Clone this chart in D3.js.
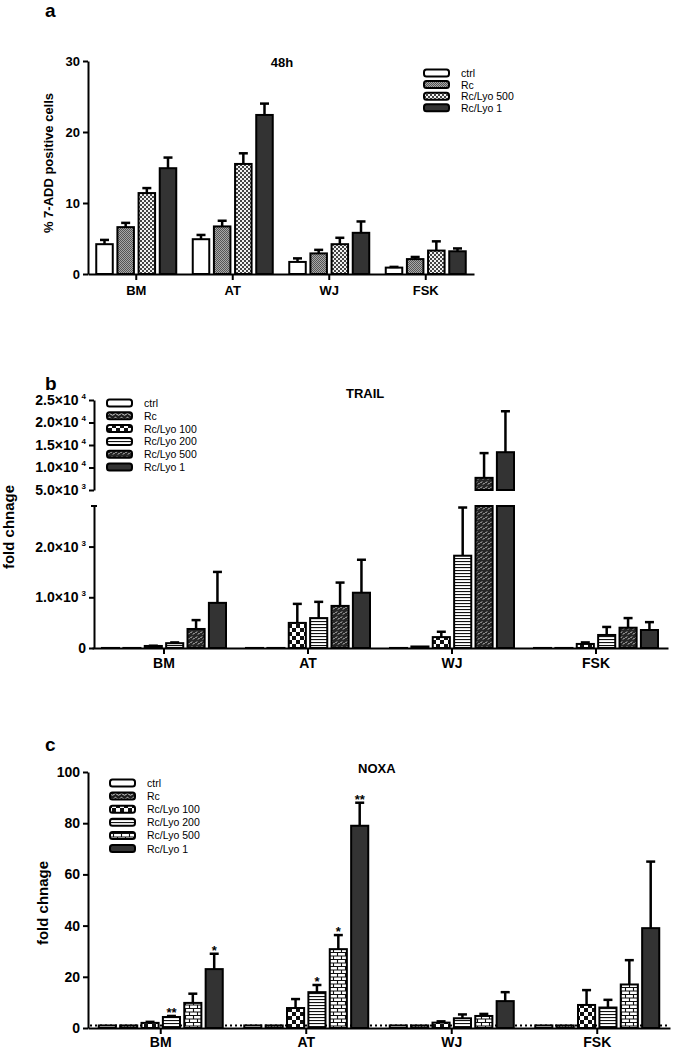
<!DOCTYPE html>
<html><head><meta charset="utf-8">
<script src="https://cdn.jsdelivr.net/npm/d3@7"></script>
<style>body{margin:0;background:#fff} svg{display:block;font-family:"Liberation Sans",Arial,sans-serif}</style>
</head><body><svg id="chart" width="675" height="1050"></svg>
<script>
// ---------------- DATA ----------------
const categories = ["BM","AT","WJ","FSK"];

// Panel a: % 7-ADD positive cells, 48h
const seriesA = ["ctrl","Rc","Rc/Lyo 500","Rc/Lyo 1"];
const a_ctrl = [4.2, 4.9, 1.7, 0.9];
const a_ctrl_err = [0.6, 0.6, 0.5, 0.1];
const a_rc = [6.6, 6.7, 2.9, 2.1];
const a_rc_err = [0.6, 0.8, 0.5, 0.3];
const a_lyo500 = [11.4, 15.5, 4.2, 3.3];
const a_lyo500_err = [0.7, 1.5, 0.9, 1.3];
const a_lyo1 = [14.9, 22.4, 5.8, 3.2];
const a_lyo1_err = [1.5, 1.6, 1.6, 0.4];
const ticksA = [0, 10, 20, 30];

// Panel b: TRAIL fold change
const seriesB = ["ctrl","Rc","Rc/Lyo 100","Rc/Lyo 200","Rc/Lyo 500","Rc/Lyo 1"];
const b_ctrl = [1, 1, 1, 1];
const b_ctrl_err = [0, 0, 0, 0];
const b_rc = [1, 1, 30, 1];
const b_rc_err = [0, 0, 0, 0];
const b_lyo100 = [40, 495, 215, 80];
const b_lyo100_err = [5, 375, 105, 30];
const b_lyo200 = [95, 590, 1820, 257];
const b_lyo200_err = [15, 320, 950, 158];
const b_lyo500 = [375, 830, 7700, 400];
const b_lyo500_err = [175, 460, 5500, 190];
const b_lyo1 = [890, 1090, 13400, 355];
const b_lyo1_err = [610, 650, 9100, 155];
const ticksBLow = [0, 1000, 2000];
const ticksBLowLabels = ["0", "1.0×10", "2.0×10"];
const ticksBLowExp = ["", "3", "3"];
const ticksBHigh = [5000, 10000, 15000, 20000, 25000];
const ticksBHighLabels = ["5.0×10", "1.0×10", "1.5×10", "2.0×10", "2.5×10"];
const ticksBHighExp = ["3", "4", "4", "4", "4"];

// Panel c: NOXA fold change
const seriesC = ["ctrl","Rc","Rc/Lyo 100","Rc/Lyo 200","Rc/Lyo 500","Rc/Lyo 1"];
const c_ctrl = [1, 1, 1, 1];
const c_ctrl_err = [0, 0, 0, 0];
const c_rc = [1, 1, 1, 1];
const c_rc_err = [0, 0, 0, 0];
const c_lyo100 = [2.0, 7.8, 2.1, 9.0];
const c_lyo100_err = [0.4, 3.5, 0.5, 5.8];
const c_lyo200 = [4.3, 14.0, 3.8, 8.0];
const c_lyo200_err = [0.4, 2.8, 1.5, 3.0];
const c_lyo500 = [9.8, 30.8, 4.7, 17.0];
const c_lyo500_err = [3.6, 5.5, 0.8, 9.5];
const c_lyo1 = [23.0, 79.0, 10.5, 39.0];
const c_lyo1_err = [6.0, 9.0, 3.5, 26.0];
const c_stars200 = ["**", "*", "", ""];
const c_stars500 = ["", "*", "", ""];
const c_stars1 = ["*", "**", "", ""];
const ticksC = [0, 20, 40, 60, 80, 100];

// ---------------- SETUP ----------------
const svg = d3.select("#chart");
const defs = svg.append("defs");
function pat(id, w, h, bg, draw) {
  const p = defs.append("pattern").attr("id", id).attr("patternUnits", "userSpaceOnUse")
    .attr("width", w).attr("height", h);
  p.append("rect").attr("width", w).attr("height", h).attr("fill", bg);
  draw(p);
}
pat("aRc", 2, 2, "#a8a8a8", p => {
  p.append("rect").attr("width", 1).attr("height", 1).attr("fill", "#555");
  p.append("rect").attr("x", 1).attr("y", 1).attr("width", 1).attr("height", 1).attr("fill", "#555");
});
pat("a500", 4, 4, "#f2f2f2", p => {
  p.append("rect").attr("width", 2).attr("height", 2).attr("fill", "#444");
  p.append("rect").attr("x", 2).attr("y", 2).attr("width", 2).attr("height", 2).attr("fill", "#444");
});
pat("wave", 6, 4, "#1e1e1e", p => p.append("path").attr("d", "M0,2.5 L1.5,1.3 L3,2.5 L4.5,3.2 L6,2.5")
  .attr("stroke", "#fff").attr("fill", "none").attr("stroke-width", 0.8));
pat("check", 8, 8, "#fff", p => {
  p.append("rect").attr("width", 4).attr("height", 4).attr("fill", "#111");
  p.append("rect").attr("x", 4).attr("y", 4).attr("width", 4).attr("height", 4).attr("fill", "#111");
});
pat("hstripe", 3, 3, "#fff", p => p.append("rect").attr("width", 3).attr("height", 1.1).attr("fill", "#111"));
pat("b500", 5, 5, "#262626", p => p.append("path").attr("d", "M0.5,3 L2,1.5 M3,4.5 L4.5,3")
  .attr("stroke", "#fff").attr("stroke-width", 0.9));
pat("brick", 8, 7, "#fff", p => p.append("path").attr("d", "M0,0.5H8M0,4H8M1.5,0.5V4M5.5,4V7")
  .attr("stroke", "#111").attr("stroke-width", 1.1));

const fillsA = ["#fff", "url(#aRc)", "url(#a500)", "#333"];
const fillsB = ["#fff", "url(#wave)", "url(#check)", "url(#hstripe)", "url(#b500)", "#333"];
const fillsC = ["#fff", "url(#wave)", "url(#check)", "url(#hstripe)", "url(#brick)", "#333"];

function styleAxis(g) {
  g.select(".domain").attr("stroke", "#000").attr("stroke-width", 2);
  g.selectAll(".tick line").attr("stroke", "#000").attr("stroke-width", 2);
  g.selectAll(".tick text").attr("fill", "#000").attr("font-weight", "bold")
    .attr("font-family", "Liberation Sans, Arial, sans-serif");
}

function legend(x0, y0, step, series, fills, textX) {
  const g = svg.append("g");
  series.forEach((s, i) => {
    const y = y0 + i * step;
    g.append("rect").attr("x", x0).attr("y", y - 3.5).attr("width", 25).attr("height", 7).attr("rx", 2.5)
      .attr("fill", fills[i]).attr("stroke", "#000").attr("stroke-width", 2);
    g.append("text").attr("x", textX).attr("y", y + 4).attr("font-size", 10.5).text(s);
  });
}

function errBar(g, cx, yTop, yErr) {
  g.append("line").attr("x1", cx).attr("x2", cx).attr("y1", yTop).attr("y2", yErr)
    .attr("stroke", "#000").attr("stroke-width", 2.5);
  g.append("line").attr("x1", cx - 4.5).attr("x2", cx + 4.5).attr("y1", yErr).attr("y2", yErr)
    .attr("stroke", "#000").attr("stroke-width", 2.5);
}

// ---------------- PANEL A ----------------
{
  const means = [a_ctrl, a_rc, a_lyo500, a_lyo1];
  const errs = [a_ctrl_err, a_rc_err, a_lyo500_err, a_lyo1_err];
  const x = d3.scaleBand().domain(categories).range([88, 474]);
  const xi = d3.scaleBand().domain(seriesA).range([-40, 40]).paddingInner(0.22);
  const y = d3.scaleLinear().domain([0, 30]).range([274, 61]);
  const g = svg.append("g");
  seriesA.forEach((s, j) => {
    categories.forEach((c, i) => {
      const v = means[j][i];
      const bx = x(c) + x.bandwidth() / 2 + xi(s);
      g.append("rect").attr("x", bx).attr("y", y(v)).attr("width", xi.bandwidth()).attr("height", y(0) - y(v))
        .attr("fill", fillsA[j]).attr("stroke", "#000").attr("stroke-width", 2);
      if (errs[j][i] > 0) errBar(g, bx + xi.bandwidth() / 2, y(v), y(v + errs[j][i]));
    });
  });
  const ya = svg.append("g").attr("transform", "translate(88,0)")
    .call(d3.axisLeft(y).tickValues(ticksA).tickSize(5).tickSizeOuter(0).tickFormat(d3.format("d")));
  styleAxis(ya); ya.selectAll(".tick text").attr("font-size", 13);
  const xa = svg.append("g").attr("transform", "translate(0,274)")
    .call(d3.axisBottom(x).tickSize(6).tickSizeOuter(0));
  styleAxis(xa); xa.selectAll(".tick text").attr("font-size", 13).attr("dy", "0.95em");
  svg.append("text").attr("transform", "translate(53,163) rotate(-90)").attr("text-anchor", "middle")
    .attr("font-size", 13).attr("font-weight", "bold").text("% 7-ADD positive cells");
  svg.append("text").attr("x", 282).attr("y", 67).attr("text-anchor", "middle").attr("font-size", 13)
    .attr("font-weight", "bold").text("48h");
  svg.append("text").attr("x", 45).attr("y", 17).attr("font-size", 19).attr("font-weight", "bold").text("a");
  legend(424, 73, 11.6, seriesA, fillsA, 461);
}

// ---------------- PANEL B ----------------
{
  const means = [b_ctrl, b_rc, b_lyo100, b_lyo200, b_lyo500, b_lyo1];
  const errs = [b_ctrl_err, b_rc_err, b_lyo100_err, b_lyo200_err, b_lyo500_err, b_lyo1_err];
  const x = d3.scaleBand().domain(categories).range([92, 668]);
  const xi = d3.scaleBand().domain(seriesB).range([-62, 62]).paddingInner(0.2);
  const yLow = d3.scaleLinear().domain([0, 2800]).range([648, 506]);
  const yUp = d3.scaleLinear().domain([5000, 25000]).range([490, 400]);
  const yPos = v => v <= 2800 ? yLow(v) : yUp(v);
  const g = svg.append("g");
  seriesB.forEach((s, j) => {
    categories.forEach((c, i) => {
      const v = means[j][i];
      const bx = x(c) + x.bandwidth() / 2 + xi(s);
      const w = xi.bandwidth();
      if (v <= 2800) {
        g.append("rect").attr("x", bx).attr("y", yLow(v)).attr("width", w).attr("height", yLow(0) - yLow(v))
          .attr("fill", fillsB[j]).attr("stroke", "#000").attr("stroke-width", 2);
      } else {
        g.append("rect").attr("x", bx).attr("y", yLow(2800)).attr("width", w).attr("height", yLow(0) - yLow(2800))
          .attr("fill", fillsB[j]).attr("stroke", "#000").attr("stroke-width", 2);
        g.append("rect").attr("x", bx).attr("y", yUp(v)).attr("width", w).attr("height", yUp(5000) - yUp(v))
          .attr("fill", fillsB[j]).attr("stroke", "#000").attr("stroke-width", 2);
      }
      if (errs[j][i] > 0) errBar(g, bx + w / 2, yPos(v), yPos(v + errs[j][i]));
    });
  });
  function supLabels(axisG, labels, exps) {
    axisG.selectAll(".tick text").each(function (d, i) {
      const t = d3.select(this).text(null).attr("font-size", 14);
      t.append("tspan").text(labels[i]);
      if (exps[i]) {
        t.append("tspan").attr("font-size", 8).attr("dx", 3).attr("dy", -6).text(exps[i]);
      }
    });
  }
  const yl = svg.append("g").attr("transform", "translate(94,0)")
    .call(d3.axisLeft(yLow).tickValues(ticksBLow).tickSize(5).tickSizeOuter(0));
  styleAxis(yl); supLabels(yl, ticksBLowLabels, ticksBLowExp);
  yl.append("line").attr("x1", -3).attr("x2", 3).attr("y1", yLow(2800)).attr("y2", yLow(2800))
    .attr("stroke", "#000").attr("stroke-width", 2);
  const yu = svg.append("g").attr("transform", "translate(94,0)")
    .call(d3.axisLeft(yUp).tickValues(ticksBHigh).tickSize(5).tickSizeOuter(0));
  styleAxis(yu); supLabels(yu, ticksBHighLabels, ticksBHighExp);
  const xa = svg.append("g").attr("transform", "translate(0,648)")
    .call(d3.axisBottom(x).tickSize(6).tickSizeOuter(0));
  styleAxis(xa); xa.selectAll(".tick text").attr("font-size", 14).attr("dy", "0.78em");
  svg.append("text").attr("transform", "translate(14,527) rotate(-90)").attr("text-anchor", "middle")
    .attr("font-size", 15).attr("font-weight", "bold").text("fold chnage");
  svg.append("text").attr("x", 346).attr("y", 398).attr("font-size", 13).attr("font-weight", "bold").text("TRAIL");
  svg.append("text").attr("x", 45).attr("y", 390).attr("font-size", 19).attr("font-weight", "bold").text("b");
  legend(107, 403, 12.8, seriesB, fillsB, 144);
}

// ---------------- PANEL C ----------------
{
  const means = [c_ctrl, c_rc, c_lyo100, c_lyo200, c_lyo500, c_lyo1];
  const errs = [c_ctrl_err, c_rc_err, c_lyo100_err, c_lyo200_err, c_lyo500_err, c_lyo1_err];
  const stars = [null, null, null, c_stars200, c_stars500, c_stars1];
  const x = d3.scaleBand().domain(categories).range([88, 670]);
  const xi = d3.scaleBand().domain(seriesC).range([-62, 62]).paddingInner(0.2);
  const y = d3.scaleLinear().domain([0, 100]).range([1028, 772]);
  const g = svg.append("g");
  g.append("line").attr("x1", 90).attr("x2", 670).attr("y1", y(1)).attr("y2", y(1))
    .attr("stroke", "#000").attr("stroke-width", 2).attr("stroke-dasharray", "2,3");
  seriesC.forEach((s, j) => {
    categories.forEach((c, i) => {
      const v = means[j][i];
      const bx = x(c) + x.bandwidth() / 2 + xi(s);
      const w = xi.bandwidth();
      g.append("rect").attr("x", bx).attr("y", y(v)).attr("width", w).attr("height", y(0) - y(v))
        .attr("fill", fillsC[j]).attr("stroke", "#000").attr("stroke-width", 2);
      if (errs[j][i] > 0) errBar(g, bx + w / 2, y(v), y(v + errs[j][i]));
      if (stars[j] && stars[j][i]) {
        g.append("text").attr("x", bx + w / 2).attr("y", y(v + errs[j][i]) + 1).attr("text-anchor", "middle")
          .attr("font-size", 13).attr("font-weight", "bold").text(stars[j][i]);
      }
    });
  });
  const ya = svg.append("g").attr("transform", "translate(88,0)")
    .call(d3.axisLeft(y).tickValues(ticksC).tickSize(5).tickSizeOuter(0).tickFormat(d3.format("d")));
  styleAxis(ya); ya.selectAll(".tick text").attr("font-size", 14);
  const xa = svg.append("g").attr("transform", "translate(0,1028)")
    .call(d3.axisBottom(x).tickSize(6).tickSizeOuter(0));
  styleAxis(xa); xa.selectAll(".tick text").attr("font-size", 14).attr("dy", "0.74em");
  svg.append("text").attr("transform", "translate(48,903) rotate(-90)").attr("text-anchor", "middle")
    .attr("font-size", 15).attr("font-weight", "bold").text("fold chnage");
  svg.append("text").attr("x", 358).attr("y", 773).attr("font-size", 13).attr("font-weight", "bold").text("NOXA");
  svg.append("text").attr("x", 45).attr("y", 751).attr("font-size", 19).attr("font-weight", "bold").text("c");
  legend(110, 783, 13.1, seriesC, fillsC, 147);
}
</script></body></html>
